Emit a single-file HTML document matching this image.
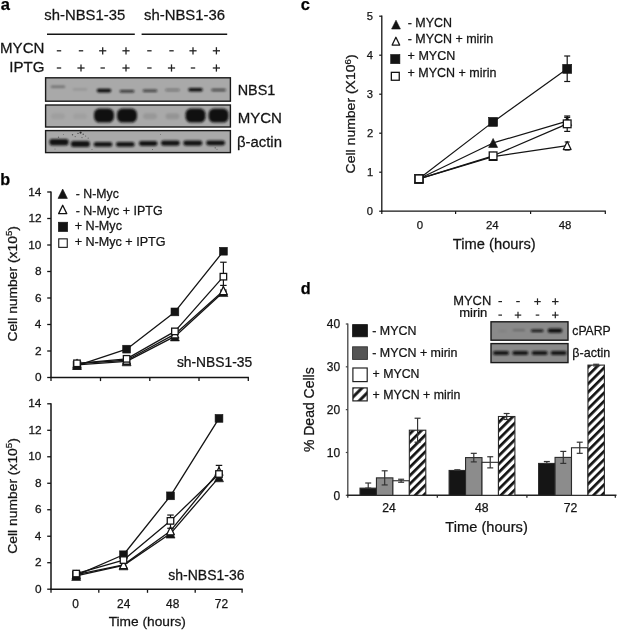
<!DOCTYPE html>
<html><head><meta charset="utf-8"><style>
html,body{margin:0;padding:0;background:#fff;overflow:hidden;width:617px;height:630px;}
svg{display:block;will-change:transform;filter:blur(0.4px);}
text{font-family:"Liberation Sans",sans-serif;stroke:#141414;stroke-width:0.25px;}
</style></head><body>
<svg width="617" height="630" viewBox="0 0 617 630">
<defs>
<filter id="bl" x="-30%" y="-100%" width="160%" height="300%"><feGaussianBlur stdDeviation="0.8"/></filter>
<pattern id="hatch0" patternUnits="userSpaceOnUse" width="5.9" height="5.9" patternTransform="translate(0,-0.95) rotate(45)"><rect width="5.9" height="5.9" fill="#fff"/><rect width="2.7" height="5.9" fill="#111"/></pattern><pattern id="hatch1" patternUnits="userSpaceOnUse" width="5.9" height="5.9" patternTransform="translate(0,1.4) rotate(45)"><rect width="5.9" height="5.9" fill="#fff"/><rect width="2.7" height="5.9" fill="#111"/></pattern><pattern id="hatch2" patternUnits="userSpaceOnUse" width="5.9" height="5.9" patternTransform="translate(0,2.1) rotate(45)"><rect width="5.9" height="5.9" fill="#fff"/><rect width="2.7" height="5.9" fill="#111"/></pattern>
<pattern id="hatchL" patternUnits="userSpaceOnUse" width="7.1" height="7.1" patternTransform="translate(352.9,392.08) rotate(45)"><rect width="7.1" height="7.1" fill="#fff"/><rect x="2.1" width="2.9" height="7.1" fill="#111"/></pattern>
</defs>
<rect width="617" height="630" fill="#fff"/>
<text x="0.82" y="9.60" font-size="16.5" font-weight="bold" fill="#000">a</text>
<text x="0.23" y="185.10" font-size="16.2" font-weight="bold" fill="#000">b</text>
<text x="300.76" y="9.60" font-size="16.5" font-weight="bold" fill="#000">c</text>
<text x="300.84" y="293.80" font-size="16.2" font-weight="bold" fill="#000">d</text>
<text transform="translate(44.29,20.40) scale(1.0363,1)" font-size="14.34" fill="#141414">sh-NBS1-35</text>
<text transform="translate(143.99,20.40) scale(1.0363,1)" font-size="14.38" fill="#141414">sh-NBS1-36</text>
<line x1="47.00" y1="34.20" x2="134.80" y2="34.20" stroke="#141414" stroke-width="1.5"/>
<line x1="141.60" y1="34.20" x2="227.20" y2="34.20" stroke="#141414" stroke-width="1.5"/>
<text transform="translate(0.06,53.30) scale(1.0363,1)" font-size="14.54" fill="#141414">MYCN</text>
<text transform="translate(9.21,71.50) scale(1.0363,1)" font-size="14.57" fill="#141414">IPTG</text>
<line x1="56.80" y1="50.80" x2="61.20" y2="50.80" stroke="#222" stroke-width="1.3"/>
<line x1="56.80" y1="68.00" x2="61.20" y2="68.00" stroke="#222" stroke-width="1.3"/>
<line x1="78.80" y1="50.80" x2="83.20" y2="50.80" stroke="#222" stroke-width="1.3"/>
<line x1="77.40" y1="68.00" x2="84.60" y2="68.00" stroke="#222" stroke-width="1.3"/>
<line x1="81.00" y1="64.40" x2="81.00" y2="71.60" stroke="#222" stroke-width="1.3"/>
<line x1="99.10" y1="50.80" x2="106.30" y2="50.80" stroke="#222" stroke-width="1.3"/>
<line x1="102.70" y1="47.20" x2="102.70" y2="54.40" stroke="#222" stroke-width="1.3"/>
<line x1="100.50" y1="68.00" x2="104.90" y2="68.00" stroke="#222" stroke-width="1.3"/>
<line x1="122.40" y1="50.80" x2="129.60" y2="50.80" stroke="#222" stroke-width="1.3"/>
<line x1="126.00" y1="47.20" x2="126.00" y2="54.40" stroke="#222" stroke-width="1.3"/>
<line x1="122.40" y1="68.00" x2="129.60" y2="68.00" stroke="#222" stroke-width="1.3"/>
<line x1="126.00" y1="64.40" x2="126.00" y2="71.60" stroke="#222" stroke-width="1.3"/>
<line x1="147.20" y1="50.80" x2="151.60" y2="50.80" stroke="#222" stroke-width="1.3"/>
<line x1="147.20" y1="68.00" x2="151.60" y2="68.00" stroke="#222" stroke-width="1.3"/>
<line x1="169.30" y1="50.80" x2="173.70" y2="50.80" stroke="#222" stroke-width="1.3"/>
<line x1="167.90" y1="68.00" x2="175.10" y2="68.00" stroke="#222" stroke-width="1.3"/>
<line x1="171.50" y1="64.40" x2="171.50" y2="71.60" stroke="#222" stroke-width="1.3"/>
<line x1="189.40" y1="50.80" x2="196.60" y2="50.80" stroke="#222" stroke-width="1.3"/>
<line x1="193.00" y1="47.20" x2="193.00" y2="54.40" stroke="#222" stroke-width="1.3"/>
<line x1="190.80" y1="68.00" x2="195.20" y2="68.00" stroke="#222" stroke-width="1.3"/>
<line x1="212.80" y1="50.80" x2="220.00" y2="50.80" stroke="#222" stroke-width="1.3"/>
<line x1="216.40" y1="47.20" x2="216.40" y2="54.40" stroke="#222" stroke-width="1.3"/>
<line x1="212.80" y1="68.00" x2="220.00" y2="68.00" stroke="#222" stroke-width="1.3"/>
<line x1="216.40" y1="64.40" x2="216.40" y2="71.60" stroke="#222" stroke-width="1.3"/>
<rect x="45.6" y="77.80" width="184.8" height="23.40" fill="#a9a9a9" stroke="#1a1a1a" stroke-width="1.4"/>
<rect x="45.6" y="105.00" width="184.8" height="22.00" fill="#a9a9a9" stroke="#1a1a1a" stroke-width="1.4"/>
<rect x="45.6" y="130.60" width="184.8" height="22.00" fill="#a9a9a9" stroke="#1a1a1a" stroke-width="1.4"/>
<rect x="50.75" y="85.50" width="14.50" height="2.60" rx="1.30" fill="#111" fill-opacity="0.32" filter="url(#bl)"/>
<rect x="72.75" y="88.25" width="14.50" height="2.30" rx="1.15" fill="#111" fill-opacity="0.12" filter="url(#bl)"/>
<rect x="96.75" y="88.80" width="14.50" height="3.60" rx="1.80" fill="#111" fill-opacity="1.0" filter="url(#bl)"/>
<rect x="119.75" y="90.00" width="14.50" height="2.40" rx="1.20" fill="#111" fill-opacity="0.8" filter="url(#bl)"/>
<rect x="142.75" y="89.45" width="14.50" height="2.50" rx="1.25" fill="#111" fill-opacity="0.7" filter="url(#bl)"/>
<rect x="165.25" y="88.75" width="14.50" height="2.50" rx="1.25" fill="#111" fill-opacity="0.35" filter="url(#bl)"/>
<rect x="188.25" y="87.90" width="14.50" height="3.60" rx="1.80" fill="#111" fill-opacity="1.0" filter="url(#bl)"/>
<rect x="211.35" y="88.80" width="14.50" height="2.40" rx="1.20" fill="#111" fill-opacity="0.65" filter="url(#bl)"/>
<rect x="51.00" y="113.30" width="14.00" height="6.00" rx="3.00" fill="#111" fill-opacity="0.06" filter="url(#bl)"/>
<rect x="73.00" y="113.30" width="14.00" height="6.00" rx="3.00" fill="#111" fill-opacity="0.05" filter="url(#bl)"/>
<rect x="94.00" y="108.60" width="20.00" height="14.00" rx="5.50" fill="#111" fill-opacity="0.98" filter="url(#bl)"/>
<rect x="117.00" y="108.60" width="20.00" height="14.00" rx="5.50" fill="#111" fill-opacity="0.98" filter="url(#bl)"/>
<rect x="143.00" y="113.30" width="14.00" height="6.00" rx="3.00" fill="#111" fill-opacity="0.1" filter="url(#bl)"/>
<rect x="165.50" y="113.30" width="14.00" height="6.00" rx="3.00" fill="#111" fill-opacity="0.12" filter="url(#bl)"/>
<rect x="185.50" y="108.60" width="20.00" height="14.00" rx="5.50" fill="#111" fill-opacity="0.98" filter="url(#bl)"/>
<rect x="208.60" y="108.60" width="20.00" height="14.00" rx="5.50" fill="#111" fill-opacity="0.98" filter="url(#bl)"/>
<rect x="49.40" y="138.95" width="19.20" height="6.50" rx="2.40" fill="#111" fill-opacity="0.96" filter="url(#bl)"/>
<rect x="70.90" y="140.95" width="19.00" height="6.10" rx="2.40" fill="#111" fill-opacity="0.96" filter="url(#bl)"/>
<rect x="93.65" y="141.95" width="18.70" height="4.90" rx="2.40" fill="#111" fill-opacity="0.96" filter="url(#bl)"/>
<rect x="115.95" y="141.95" width="18.70" height="4.90" rx="2.40" fill="#111" fill-opacity="0.96" filter="url(#bl)"/>
<rect x="138.90" y="141.05" width="18.60" height="4.90" rx="2.40" fill="#111" fill-opacity="0.96" filter="url(#bl)"/>
<rect x="161.00" y="140.45" width="18.80" height="5.30" rx="2.40" fill="#111" fill-opacity="0.96" filter="url(#bl)"/>
<rect x="183.30" y="140.55" width="19.00" height="5.10" rx="2.40" fill="#111" fill-opacity="0.96" filter="url(#bl)"/>
<rect x="206.10" y="140.55" width="19.00" height="4.90" rx="2.40" fill="#111" fill-opacity="0.96" filter="url(#bl)"/>
<circle cx="72.5" cy="134.8" r="0.7" fill="#111" fill-opacity="0.6"/>
<circle cx="75.2" cy="136.6" r="0.6" fill="#111" fill-opacity="0.5"/>
<circle cx="78.0" cy="133.4" r="0.7" fill="#111" fill-opacity="0.6"/>
<circle cx="80.6" cy="132.6" r="1.1" fill="#111" fill-opacity="0.8"/>
<circle cx="83.2" cy="134.2" r="0.7" fill="#111" fill-opacity="0.6"/>
<circle cx="85.6" cy="136.0" r="0.6" fill="#111" fill-opacity="0.5"/>
<circle cx="82.0" cy="137.6" r="0.6" fill="#111" fill-opacity="0.5"/>
<circle cx="88.2" cy="138.2" r="0.6" fill="#111" fill-opacity="0.4"/>
<circle cx="63.5" cy="134.6" r="0.5" fill="#111" fill-opacity="0.4"/>
<circle cx="58.5" cy="137.2" r="0.6" fill="#111" fill-opacity="0.5"/>
<circle cx="55.0" cy="149.0" r="0.5" fill="#111" fill-opacity="0.4"/>
<circle cx="92.0" cy="149.4" r="0.5" fill="#111" fill-opacity="0.4"/>
<circle cx="152.5" cy="149.5" r="0.5" fill="#111" fill-opacity="0.5"/>
<circle cx="215.2" cy="147.8" r="0.6" fill="#111" fill-opacity="0.6"/>
<circle cx="217.0" cy="149.2" r="0.5" fill="#111" fill-opacity="0.5"/>
<circle cx="160.5" cy="134.5" r="0.5" fill="#111" fill-opacity="0.4"/>
<text transform="translate(237.72,94.50) scale(1.0363,1)" font-size="13.88" fill="#141414">NBS1</text>
<text transform="translate(237.66,122.60) scale(1.0363,1)" font-size="14.54" fill="#141414">MYCN</text>
<text transform="translate(236.97,146.80) scale(1.0363,1)" font-size="14.38" fill="#141414">β-actin</text>
<line x1="51.00" y1="191.40" x2="51.00" y2="378.10" stroke="#141414" stroke-width="1.5"/>
<line x1="47.20" y1="377.50" x2="51.00" y2="377.50" stroke="#141414" stroke-width="1.3"/>
<text transform="translate(34.88,381.00) scale(1.0300,1)" font-size="11.50" fill="#141414">0</text>
<line x1="47.20" y1="351.00" x2="51.00" y2="351.00" stroke="#141414" stroke-width="1.3"/>
<text transform="translate(35.01,354.50) scale(1.0300,1)" font-size="11.50" fill="#141414">2</text>
<line x1="47.20" y1="324.50" x2="51.00" y2="324.50" stroke="#141414" stroke-width="1.3"/>
<text transform="translate(34.76,328.00) scale(1.0300,1)" font-size="11.50" fill="#141414">4</text>
<line x1="47.20" y1="298.00" x2="51.00" y2="298.00" stroke="#141414" stroke-width="1.3"/>
<text transform="translate(34.93,301.50) scale(1.0300,1)" font-size="11.50" fill="#141414">6</text>
<line x1="47.20" y1="271.50" x2="51.00" y2="271.50" stroke="#141414" stroke-width="1.3"/>
<text transform="translate(34.93,275.00) scale(1.0300,1)" font-size="11.50" fill="#141414">8</text>
<line x1="47.20" y1="245.00" x2="51.00" y2="245.00" stroke="#141414" stroke-width="1.3"/>
<text transform="translate(28.29,248.50) scale(1.0300,1)" font-size="11.50" fill="#141414">10</text>
<line x1="47.20" y1="218.50" x2="51.00" y2="218.50" stroke="#141414" stroke-width="1.3"/>
<text transform="translate(28.42,222.00) scale(1.0300,1)" font-size="11.50" fill="#141414">12</text>
<line x1="47.20" y1="192.00" x2="51.00" y2="192.00" stroke="#141414" stroke-width="1.3"/>
<text transform="translate(28.17,195.50) scale(1.0300,1)" font-size="11.50" fill="#141414">14</text>
<line x1="50.30" y1="377.50" x2="248.90" y2="377.50" stroke="#141414" stroke-width="1.5"/>
<line x1="51.00" y1="377.50" x2="51.00" y2="381.10" stroke="#141414" stroke-width="1.3"/>
<line x1="100.50" y1="377.50" x2="100.50" y2="381.10" stroke="#141414" stroke-width="1.3"/>
<line x1="149.80" y1="377.50" x2="149.80" y2="381.10" stroke="#141414" stroke-width="1.3"/>
<line x1="199.00" y1="377.50" x2="199.00" y2="381.10" stroke="#141414" stroke-width="1.3"/>
<line x1="248.30" y1="377.50" x2="248.30" y2="381.10" stroke="#141414" stroke-width="1.3"/>
<text transform="translate(176.91,367.20) scale(0.9955,1)" font-size="13.90" fill="#141414">sh-NBS1-35</text>
<text transform="translate(16.90,341.60) rotate(-90) scale(1.0358,1)" font-size="13.40" fill="#141414">Cell number (x10<tspan font-size="9.30" dy="-4.70">5</tspan><tspan dy="4.70">)</tspan></text>
<polygon points="62.70,189.00 67.40,198.40 58.00,198.40" fill="#141414" stroke="#141414" stroke-width="0.6" stroke-linejoin="round"/>
<polygon points="62.70,205.25 66.75,213.65 58.65,213.65" fill="#fff" stroke="#141414" stroke-width="1.3" stroke-linejoin="round"/>
<rect x="58.30" y="222.20" width="9.40" height="9.40" fill="#141414" stroke="#141414" stroke-width="0.6"/>
<rect x="58.75" y="238.85" width="8.50" height="8.50" fill="#fff" stroke="#141414" stroke-width="1.1"/>
<text transform="translate(75.75,197.90) scale(0.9927,1)" font-size="12.40" fill="#141414">- N-Myc</text>
<text transform="translate(75.75,214.60) scale(1.0061,1)" font-size="12.40" fill="#141414">- N-Myc + IPTG</text>
<text transform="translate(74.68,230.20) scale(1.0161,1)" font-size="12.40" fill="#141414">+ N-Myc</text>
<text transform="translate(74.69,246.10) scale(1.0155,1)" font-size="12.40" fill="#141414">+ N-Myc + IPTG</text>
<polyline points="77.00,364.91 126.60,361.33 174.90,336.43 223.40,292.04" fill="none" stroke="#141414" stroke-width="1.3" stroke-linejoin="round"/>
<polyline points="77.00,363.59 126.60,360.27 174.90,334.17 223.40,290.71" fill="none" stroke="#141414" stroke-width="1.3" stroke-linejoin="round"/>
<polyline points="77.00,363.32 126.60,358.82 174.90,331.39 223.40,276.67" fill="none" stroke="#141414" stroke-width="1.3" stroke-linejoin="round"/>
<polyline points="77.00,365.57 126.60,349.14 174.90,311.91 223.40,251.23" fill="none" stroke="#141414" stroke-width="1.3" stroke-linejoin="round"/>
<line x1="223.40" y1="262.23" x2="223.40" y2="290.05" stroke="#141414" stroke-width="1.2"/>
<line x1="220.15" y1="262.23" x2="226.65" y2="262.23" stroke="#141414" stroke-width="1.2"/>
<line x1="220.15" y1="290.05" x2="226.65" y2="290.05" stroke="#141414" stroke-width="1.2"/>
<line x1="223.40" y1="285.41" x2="223.40" y2="291.38" stroke="#141414" stroke-width="1.2"/>
<line x1="220.15" y1="285.41" x2="226.65" y2="285.41" stroke="#141414" stroke-width="1.2"/>
<line x1="220.15" y1="291.38" x2="226.65" y2="291.38" stroke="#141414" stroke-width="1.2"/>
<polygon points="77.00,360.41 81.50,369.41 72.50,369.41" fill="#141414" stroke="#141414" stroke-width="0.6" stroke-linejoin="round"/>
<polygon points="126.60,356.83 131.10,365.83 122.10,365.83" fill="#141414" stroke="#141414" stroke-width="0.6" stroke-linejoin="round"/>
<polygon points="174.90,331.93 179.40,340.93 170.40,340.93" fill="#141414" stroke="#141414" stroke-width="0.6" stroke-linejoin="round"/>
<polygon points="223.40,287.54 227.90,296.54 218.90,296.54" fill="#141414" stroke="#141414" stroke-width="0.6" stroke-linejoin="round"/>
<polygon points="77.00,359.44 80.85,367.44 73.15,367.44" fill="#fff" stroke="#141414" stroke-width="1.3" stroke-linejoin="round"/>
<polygon points="126.60,356.12 130.45,364.12 122.75,364.12" fill="#fff" stroke="#141414" stroke-width="1.3" stroke-linejoin="round"/>
<polygon points="174.90,330.02 178.75,338.02 171.05,338.02" fill="#fff" stroke="#141414" stroke-width="1.3" stroke-linejoin="round"/>
<polygon points="223.40,286.56 227.25,294.56 219.55,294.56" fill="#fff" stroke="#141414" stroke-width="1.3" stroke-linejoin="round"/>
<rect x="73.10" y="361.68" width="7.80" height="7.80" fill="#141414" stroke="#141414" stroke-width="0.6"/>
<rect x="122.70" y="345.25" width="7.80" height="7.80" fill="#141414" stroke="#141414" stroke-width="0.6"/>
<rect x="171.00" y="308.01" width="7.80" height="7.80" fill="#141414" stroke="#141414" stroke-width="0.6"/>
<rect x="219.50" y="247.33" width="7.80" height="7.80" fill="#141414" stroke="#141414" stroke-width="0.6"/>
<rect x="73.75" y="360.07" width="6.50" height="6.50" fill="#fff" stroke="#141414" stroke-width="1.3"/>
<rect x="123.35" y="355.57" width="6.50" height="6.50" fill="#fff" stroke="#141414" stroke-width="1.3"/>
<rect x="171.65" y="328.14" width="6.50" height="6.50" fill="#fff" stroke="#141414" stroke-width="1.3"/>
<rect x="220.15" y="273.42" width="6.50" height="6.50" fill="#fff" stroke="#141414" stroke-width="1.3"/>
<line x1="51.00" y1="403.20" x2="51.00" y2="589.80" stroke="#141414" stroke-width="1.5"/>
<line x1="47.20" y1="589.20" x2="51.00" y2="589.20" stroke="#141414" stroke-width="1.3"/>
<text transform="translate(34.88,592.70) scale(1.0300,1)" font-size="11.50" fill="#141414">0</text>
<line x1="47.20" y1="562.71" x2="51.00" y2="562.71" stroke="#141414" stroke-width="1.3"/>
<text transform="translate(35.01,566.21) scale(1.0300,1)" font-size="11.50" fill="#141414">2</text>
<line x1="47.20" y1="536.23" x2="51.00" y2="536.23" stroke="#141414" stroke-width="1.3"/>
<text transform="translate(34.76,539.73) scale(1.0300,1)" font-size="11.50" fill="#141414">4</text>
<line x1="47.20" y1="509.74" x2="51.00" y2="509.74" stroke="#141414" stroke-width="1.3"/>
<text transform="translate(34.93,513.24) scale(1.0300,1)" font-size="11.50" fill="#141414">6</text>
<line x1="47.20" y1="483.26" x2="51.00" y2="483.26" stroke="#141414" stroke-width="1.3"/>
<text transform="translate(34.93,486.76) scale(1.0300,1)" font-size="11.50" fill="#141414">8</text>
<line x1="47.20" y1="456.77" x2="51.00" y2="456.77" stroke="#141414" stroke-width="1.3"/>
<text transform="translate(28.29,460.27) scale(1.0300,1)" font-size="11.50" fill="#141414">10</text>
<line x1="47.20" y1="430.29" x2="51.00" y2="430.29" stroke="#141414" stroke-width="1.3"/>
<text transform="translate(28.42,433.79) scale(1.0300,1)" font-size="11.50" fill="#141414">12</text>
<line x1="47.20" y1="403.80" x2="51.00" y2="403.80" stroke="#141414" stroke-width="1.3"/>
<text transform="translate(28.17,407.30) scale(1.0300,1)" font-size="11.50" fill="#141414">14</text>
<line x1="50.30" y1="589.20" x2="242.70" y2="589.20" stroke="#141414" stroke-width="1.5"/>
<line x1="51.00" y1="589.20" x2="51.00" y2="592.80" stroke="#141414" stroke-width="1.3"/>
<line x1="98.80" y1="589.20" x2="98.80" y2="592.80" stroke="#141414" stroke-width="1.3"/>
<line x1="147.50" y1="589.20" x2="147.50" y2="592.80" stroke="#141414" stroke-width="1.3"/>
<line x1="195.20" y1="589.20" x2="195.20" y2="592.80" stroke="#141414" stroke-width="1.3"/>
<line x1="242.10" y1="589.20" x2="242.10" y2="592.80" stroke="#141414" stroke-width="1.3"/>
<text transform="translate(168.31,579.80) scale(1.0079,1)" font-size="13.90" fill="#141414">sh-NBS1-36</text>
<text transform="translate(16.90,553.70) rotate(-90) scale(1.0349,1)" font-size="13.40" fill="#141414">Cell number (x10<tspan font-size="9.30" dy="-4.70">5</tspan><tspan dy="4.70">)</tspan></text>
<polyline points="76.20,575.96 123.50,565.36 170.50,533.58 219.00,477.30" fill="none" stroke="#141414" stroke-width="1.3" stroke-linejoin="round"/>
<polyline points="76.20,574.63 123.50,564.83 170.50,530.93 219.00,471.34" fill="none" stroke="#141414" stroke-width="1.3" stroke-linejoin="round"/>
<polyline points="76.20,573.57 123.50,560.07 170.50,520.87 219.00,473.99" fill="none" stroke="#141414" stroke-width="1.3" stroke-linejoin="round"/>
<polyline points="76.20,575.30 123.50,554.77 170.50,495.84 219.00,418.37" fill="none" stroke="#141414" stroke-width="1.3" stroke-linejoin="round"/>
<line x1="170.50" y1="515.04" x2="170.50" y2="528.28" stroke="#141414" stroke-width="1.2"/>
<line x1="167.25" y1="515.04" x2="173.75" y2="515.04" stroke="#141414" stroke-width="1.2"/>
<line x1="167.25" y1="528.28" x2="173.75" y2="528.28" stroke="#141414" stroke-width="1.2"/>
<line x1="219.00" y1="465.38" x2="219.00" y2="479.28" stroke="#141414" stroke-width="1.2"/>
<line x1="215.75" y1="465.38" x2="222.25" y2="465.38" stroke="#141414" stroke-width="1.2"/>
<line x1="215.75" y1="479.28" x2="222.25" y2="479.28" stroke="#141414" stroke-width="1.2"/>
<polygon points="76.20,571.46 80.70,580.46 71.70,580.46" fill="#141414" stroke="#141414" stroke-width="0.6" stroke-linejoin="round"/>
<polygon points="123.50,560.86 128.00,569.86 119.00,569.86" fill="#141414" stroke="#141414" stroke-width="0.6" stroke-linejoin="round"/>
<polygon points="170.50,529.08 175.00,538.08 166.00,538.08" fill="#141414" stroke="#141414" stroke-width="0.6" stroke-linejoin="round"/>
<polygon points="219.00,472.80 223.50,481.80 214.50,481.80" fill="#141414" stroke="#141414" stroke-width="0.6" stroke-linejoin="round"/>
<polygon points="76.20,570.48 80.05,578.48 72.35,578.48" fill="#fff" stroke="#141414" stroke-width="1.3" stroke-linejoin="round"/>
<polygon points="123.50,560.68 127.35,568.68 119.65,568.68" fill="#fff" stroke="#141414" stroke-width="1.3" stroke-linejoin="round"/>
<polygon points="170.50,526.78 174.35,534.78 166.65,534.78" fill="#fff" stroke="#141414" stroke-width="1.3" stroke-linejoin="round"/>
<polygon points="219.00,467.19 222.85,475.19 215.15,475.19" fill="#fff" stroke="#141414" stroke-width="1.3" stroke-linejoin="round"/>
<rect x="72.30" y="571.40" width="7.80" height="7.80" fill="#141414" stroke="#141414" stroke-width="0.6"/>
<rect x="119.60" y="550.87" width="7.80" height="7.80" fill="#141414" stroke="#141414" stroke-width="0.6"/>
<rect x="166.60" y="491.94" width="7.80" height="7.80" fill="#141414" stroke="#141414" stroke-width="0.6"/>
<rect x="215.10" y="414.47" width="7.80" height="7.80" fill="#141414" stroke="#141414" stroke-width="0.6"/>
<rect x="72.95" y="570.32" width="6.50" height="6.50" fill="#fff" stroke="#141414" stroke-width="1.3"/>
<rect x="120.25" y="556.82" width="6.50" height="6.50" fill="#fff" stroke="#141414" stroke-width="1.3"/>
<rect x="167.25" y="517.62" width="6.50" height="6.50" fill="#fff" stroke="#141414" stroke-width="1.3"/>
<rect x="215.75" y="470.74" width="6.50" height="6.50" fill="#fff" stroke="#141414" stroke-width="1.3"/>
<text transform="translate(72.29,607.80) scale(1.0000,1)" font-size="11.90" fill="#141414">0</text>
<text transform="translate(117.06,607.80) scale(1.0000,1)" font-size="11.90" fill="#141414">24</text>
<text transform="translate(166.10,607.80) scale(1.0000,1)" font-size="11.90" fill="#141414">48</text>
<text transform="translate(214.78,607.80) scale(1.0000,1)" font-size="11.90" fill="#141414">72</text>
<text transform="translate(108.69,626.00) scale(1.0163,1)" font-size="13.50" fill="#141414">Time (hours)</text>
<line x1="381.80" y1="15.60" x2="381.80" y2="211.80" stroke="#141414" stroke-width="1.3"/>
<line x1="379.20" y1="211.20" x2="381.80" y2="211.20" stroke="#141414" stroke-width="1.2"/>
<text transform="translate(366.81,215.10) scale(1.0000,1)" font-size="11.20" fill="#141414">0</text>
<line x1="379.20" y1="172.20" x2="381.80" y2="172.20" stroke="#141414" stroke-width="1.2"/>
<text transform="translate(366.92,176.10) scale(1.0000,1)" font-size="11.20" fill="#141414">1</text>
<line x1="379.20" y1="133.20" x2="381.80" y2="133.20" stroke="#141414" stroke-width="1.2"/>
<text transform="translate(366.93,137.10) scale(1.0000,1)" font-size="11.20" fill="#141414">2</text>
<line x1="379.20" y1="94.20" x2="381.80" y2="94.20" stroke="#141414" stroke-width="1.2"/>
<text transform="translate(366.86,98.10) scale(1.0000,1)" font-size="11.20" fill="#141414">3</text>
<line x1="379.20" y1="55.20" x2="381.80" y2="55.20" stroke="#141414" stroke-width="1.2"/>
<text transform="translate(366.70,59.10) scale(1.0000,1)" font-size="11.20" fill="#141414">4</text>
<line x1="379.20" y1="16.20" x2="381.80" y2="16.20" stroke="#141414" stroke-width="1.2"/>
<text transform="translate(366.84,20.10) scale(1.0000,1)" font-size="11.20" fill="#141414">5</text>
<line x1="381.20" y1="211.20" x2="605.90" y2="211.20" stroke="#141414" stroke-width="1.3"/>
<line x1="381.80" y1="211.20" x2="381.80" y2="214.00" stroke="#141414" stroke-width="1.2"/>
<line x1="455.60" y1="211.20" x2="455.60" y2="214.00" stroke="#141414" stroke-width="1.2"/>
<line x1="530.60" y1="211.20" x2="530.60" y2="214.00" stroke="#141414" stroke-width="1.2"/>
<line x1="605.30" y1="211.20" x2="605.30" y2="214.00" stroke="#141414" stroke-width="1.2"/>
<text transform="translate(416.63,229.00) scale(1.0000,1)" font-size="11.40" fill="#141414">0</text>
<text transform="translate(485.94,229.00) scale(1.0000,1)" font-size="11.40" fill="#141414">24</text>
<text transform="translate(558.68,229.00) scale(1.0000,1)" font-size="11.40" fill="#141414">48</text>
<text transform="translate(452.87,248.50) scale(1.0283,1)" font-size="14.30" fill="#141414">Time (hours)</text>
<text transform="translate(355.40,173.41) rotate(-90) scale(1.0231,1)" font-size="13.70" fill="#141414">Cell number (X10<tspan font-size="9.40" dy="-4.80">6</tspan><tspan dy="4.80">)</tspan></text>
<polygon points="396.00,20.20 400.40,29.00 391.60,29.00" fill="#141414" stroke="#141414" stroke-width="0.6" stroke-linejoin="round"/>
<polygon points="395.90,37.25 399.65,45.05 392.15,45.05" fill="#fff" stroke="#141414" stroke-width="1.3" stroke-linejoin="round"/>
<rect x="390.70" y="54.50" width="9.20" height="9.20" fill="#141414" stroke="#141414" stroke-width="0.6"/>
<rect x="391.35" y="72.35" width="7.90" height="7.90" fill="#fff" stroke="#141414" stroke-width="1.3"/>
<text transform="translate(407.65,26.50) scale(1.0147,1)" font-size="12.30" fill="#141414">- MYCN</text>
<text transform="translate(407.65,42.70) scale(1.0139,1)" font-size="12.30" fill="#141414">- MYCN + mirin</text>
<text transform="translate(407.59,59.60) scale(1.0196,1)" font-size="12.30" fill="#141414">+ MYCN</text>
<text transform="translate(407.59,76.50) scale(1.0165,1)" font-size="12.30" fill="#141414">+ MYCN + mirin</text>
<polyline points="419.00,178.83 493.10,121.89 567.20,68.85" fill="none" stroke="#141414" stroke-width="1.2" stroke-linejoin="round"/>
<polyline points="419.00,178.83 493.10,142.95 567.20,121.11" fill="none" stroke="#141414" stroke-width="1.2" stroke-linejoin="round"/>
<polyline points="419.00,178.83 493.10,155.82 567.20,123.84" fill="none" stroke="#141414" stroke-width="1.2" stroke-linejoin="round"/>
<polyline points="419.00,178.83 493.10,156.60 567.20,145.68" fill="none" stroke="#141414" stroke-width="1.2" stroke-linejoin="round"/>
<line x1="567.20" y1="56.00" x2="567.20" y2="81.50" stroke="#141414" stroke-width="1.2"/>
<line x1="564.20" y1="56.00" x2="570.20" y2="56.00" stroke="#141414" stroke-width="1.2"/>
<line x1="564.20" y1="81.50" x2="570.20" y2="81.50" stroke="#141414" stroke-width="1.2"/>
<line x1="567.20" y1="116.00" x2="567.20" y2="131.40" stroke="#141414" stroke-width="1.2"/>
<line x1="564.20" y1="116.00" x2="570.20" y2="116.00" stroke="#141414" stroke-width="1.2"/>
<line x1="564.20" y1="131.40" x2="570.20" y2="131.40" stroke="#141414" stroke-width="1.2"/>
<line x1="567.20" y1="117.40" x2="567.20" y2="124.00" stroke="#141414" stroke-width="1.2"/>
<line x1="564.20" y1="117.40" x2="570.20" y2="117.40" stroke="#141414" stroke-width="1.2"/>
<line x1="564.20" y1="124.00" x2="570.20" y2="124.00" stroke="#141414" stroke-width="1.2"/>
<line x1="567.20" y1="142.00" x2="567.20" y2="150.00" stroke="#141414" stroke-width="1.2"/>
<line x1="564.70" y1="142.00" x2="569.70" y2="142.00" stroke="#141414" stroke-width="1.2"/>
<line x1="564.70" y1="150.00" x2="569.70" y2="150.00" stroke="#141414" stroke-width="1.2"/>
<rect x="414.50" y="174.33" width="9.00" height="9.00" fill="#141414" stroke="#141414" stroke-width="0.6"/>
<rect x="488.60" y="117.39" width="9.00" height="9.00" fill="#141414" stroke="#141414" stroke-width="0.6"/>
<rect x="562.70" y="64.35" width="9.00" height="9.00" fill="#141414" stroke="#141414" stroke-width="0.6"/>
<polygon points="419.00,174.33 423.50,183.33 414.50,183.33" fill="#141414" stroke="#141414" stroke-width="0.6" stroke-linejoin="round"/>
<polygon points="493.10,138.45 497.60,147.45 488.60,147.45" fill="#141414" stroke="#141414" stroke-width="0.6" stroke-linejoin="round"/>
<polygon points="567.20,116.61 571.70,125.61 562.70,125.61" fill="#141414" stroke="#141414" stroke-width="0.6" stroke-linejoin="round"/>
<polygon points="419.00,174.68 422.85,182.68 415.15,182.68" fill="#fff" stroke="#141414" stroke-width="1.3" stroke-linejoin="round"/>
<polygon points="493.10,152.45 496.95,160.45 489.25,160.45" fill="#fff" stroke="#141414" stroke-width="1.3" stroke-linejoin="round"/>
<polygon points="567.20,141.53 571.05,149.53 563.35,149.53" fill="#fff" stroke="#141414" stroke-width="1.3" stroke-linejoin="round"/>
<rect x="415.15" y="174.98" width="7.70" height="7.70" fill="#fff" stroke="#141414" stroke-width="1.3"/>
<rect x="489.25" y="151.97" width="7.70" height="7.70" fill="#fff" stroke="#141414" stroke-width="1.3"/>
<rect x="563.35" y="119.99" width="7.70" height="7.70" fill="#fff" stroke="#141414" stroke-width="1.3"/>
<line x1="347.80" y1="323.50" x2="347.80" y2="495.80" stroke="#444" stroke-width="1.3"/>
<line x1="345.80" y1="495.30" x2="347.80" y2="495.30" stroke="#444" stroke-width="1.2"/>
<text transform="translate(333.49,499.60) scale(1.0000,1)" font-size="12.00" fill="#141414">0</text>
<line x1="345.80" y1="452.48" x2="347.80" y2="452.48" stroke="#444" stroke-width="1.2"/>
<text transform="translate(326.82,456.78) scale(1.0000,1)" font-size="12.00" fill="#141414">10</text>
<line x1="345.80" y1="409.65" x2="347.80" y2="409.65" stroke="#444" stroke-width="1.2"/>
<text transform="translate(326.82,413.95) scale(1.0000,1)" font-size="12.00" fill="#141414">20</text>
<line x1="345.80" y1="366.82" x2="347.80" y2="366.82" stroke="#444" stroke-width="1.2"/>
<text transform="translate(326.82,371.12) scale(1.0000,1)" font-size="12.00" fill="#141414">30</text>
<line x1="345.80" y1="324.00" x2="347.80" y2="324.00" stroke="#444" stroke-width="1.2"/>
<text transform="translate(326.82,328.30) scale(1.0000,1)" font-size="12.00" fill="#141414">40</text>
<line x1="347.30" y1="495.30" x2="616.50" y2="495.30" stroke="#222" stroke-width="1.4"/>
<line x1="347.80" y1="495.30" x2="347.80" y2="497.70" stroke="#222" stroke-width="1.2"/>
<line x1="437.30" y1="495.30" x2="437.30" y2="497.70" stroke="#222" stroke-width="1.2"/>
<line x1="526.90" y1="495.30" x2="526.90" y2="497.70" stroke="#222" stroke-width="1.2"/>
<line x1="615.30" y1="495.30" x2="615.30" y2="497.70" stroke="#222" stroke-width="1.2"/>
<text transform="translate(382.19,512.00) scale(1.0000,1)" font-size="12.20" fill="#141414">24</text>
<text transform="translate(474.94,512.00) scale(1.0000,1)" font-size="12.20" fill="#141414">48</text>
<text transform="translate(563.71,512.00) scale(1.0000,1)" font-size="12.20" fill="#141414">72</text>
<text transform="translate(445.37,531.60) scale(1.0246,1)" font-size="14.30" fill="#141414">Time (hours)</text>
<text transform="translate(314.3,452.1) rotate(-90)" font-size="14" fill="#141414">% Dead Cells</text>
<rect x="360.00" y="488.15" width="16.45" height="7.15" fill="#151515" stroke="#2a2a2a" stroke-width="1.1"/>
<rect x="376.45" y="477.87" width="16.45" height="17.43" fill="#8c8c8c" stroke="#2a2a2a" stroke-width="1.1"/>
<rect x="392.90" y="480.74" width="16.45" height="14.56" fill="#ffffff" stroke="#2a2a2a" stroke-width="1.1"/>
<rect x="409.35" y="430.21" width="16.45" height="65.09" fill="url(#hatch0)" stroke="#2a2a2a" stroke-width="1.1"/>
<rect x="449.10" y="470.46" width="16.45" height="24.84" fill="#151515" stroke="#2a2a2a" stroke-width="1.1"/>
<rect x="465.55" y="457.61" width="16.45" height="37.69" fill="#8c8c8c" stroke="#2a2a2a" stroke-width="1.1"/>
<rect x="482.00" y="462.32" width="16.45" height="32.98" fill="#ffffff" stroke="#2a2a2a" stroke-width="1.1"/>
<rect x="498.45" y="416.50" width="16.45" height="78.80" fill="url(#hatch1)" stroke="#2a2a2a" stroke-width="1.1"/>
<rect x="538.60" y="463.44" width="16.45" height="31.86" fill="#151515" stroke="#2a2a2a" stroke-width="1.1"/>
<rect x="555.05" y="457.40" width="16.45" height="37.90" fill="#8c8c8c" stroke="#2a2a2a" stroke-width="1.1"/>
<rect x="571.50" y="447.76" width="16.45" height="47.54" fill="#ffffff" stroke="#2a2a2a" stroke-width="1.1"/>
<rect x="587.95" y="365.11" width="16.45" height="130.19" fill="url(#hatch2)" stroke="#2a2a2a" stroke-width="1.1"/>
<line x1="368.23" y1="483.01" x2="368.23" y2="488.15" stroke="#333" stroke-width="1.2"/>
<line x1="365.23" y1="483.01" x2="371.23" y2="483.01" stroke="#333" stroke-width="1.2"/>
<line x1="365.23" y1="488.15" x2="371.23" y2="488.15" stroke="#333" stroke-width="1.2"/>
<line x1="384.68" y1="470.80" x2="384.68" y2="484.94" stroke="#333" stroke-width="1.2"/>
<line x1="381.68" y1="470.80" x2="387.68" y2="470.80" stroke="#333" stroke-width="1.2"/>
<line x1="381.68" y1="484.94" x2="387.68" y2="484.94" stroke="#333" stroke-width="1.2"/>
<line x1="401.12" y1="479.24" x2="401.12" y2="482.24" stroke="#333" stroke-width="1.2"/>
<line x1="398.12" y1="479.24" x2="404.12" y2="479.24" stroke="#333" stroke-width="1.2"/>
<line x1="398.12" y1="482.24" x2="404.12" y2="482.24" stroke="#333" stroke-width="1.2"/>
<line x1="417.58" y1="418.22" x2="417.58" y2="442.20" stroke="#333" stroke-width="1.2"/>
<line x1="414.58" y1="418.22" x2="420.58" y2="418.22" stroke="#333" stroke-width="1.2"/>
<line x1="414.58" y1="442.20" x2="420.58" y2="442.20" stroke="#333" stroke-width="1.2"/>
<line x1="457.33" y1="469.82" x2="457.33" y2="470.46" stroke="#333" stroke-width="1.2"/>
<line x1="454.33" y1="469.82" x2="460.33" y2="469.82" stroke="#333" stroke-width="1.2"/>
<line x1="454.33" y1="470.46" x2="460.33" y2="470.46" stroke="#333" stroke-width="1.2"/>
<line x1="473.78" y1="453.33" x2="473.78" y2="461.90" stroke="#333" stroke-width="1.2"/>
<line x1="470.78" y1="453.33" x2="476.78" y2="453.33" stroke="#333" stroke-width="1.2"/>
<line x1="470.78" y1="461.90" x2="476.78" y2="461.90" stroke="#333" stroke-width="1.2"/>
<line x1="490.23" y1="456.76" x2="490.23" y2="467.89" stroke="#333" stroke-width="1.2"/>
<line x1="487.23" y1="456.76" x2="493.23" y2="456.76" stroke="#333" stroke-width="1.2"/>
<line x1="487.23" y1="467.89" x2="493.23" y2="467.89" stroke="#333" stroke-width="1.2"/>
<line x1="506.68" y1="413.50" x2="506.68" y2="419.50" stroke="#333" stroke-width="1.2"/>
<line x1="503.68" y1="413.50" x2="509.68" y2="413.50" stroke="#333" stroke-width="1.2"/>
<line x1="503.68" y1="419.50" x2="509.68" y2="419.50" stroke="#333" stroke-width="1.2"/>
<line x1="546.83" y1="461.51" x2="546.83" y2="463.44" stroke="#333" stroke-width="1.2"/>
<line x1="543.83" y1="461.51" x2="549.83" y2="461.51" stroke="#333" stroke-width="1.2"/>
<line x1="543.83" y1="463.44" x2="549.83" y2="463.44" stroke="#333" stroke-width="1.2"/>
<line x1="563.28" y1="451.40" x2="563.28" y2="463.40" stroke="#333" stroke-width="1.2"/>
<line x1="560.28" y1="451.40" x2="566.28" y2="451.40" stroke="#333" stroke-width="1.2"/>
<line x1="560.28" y1="463.40" x2="566.28" y2="463.40" stroke="#333" stroke-width="1.2"/>
<line x1="579.73" y1="442.20" x2="579.73" y2="453.33" stroke="#333" stroke-width="1.2"/>
<line x1="576.73" y1="442.20" x2="582.73" y2="442.20" stroke="#333" stroke-width="1.2"/>
<line x1="576.73" y1="453.33" x2="582.73" y2="453.33" stroke="#333" stroke-width="1.2"/>
<line x1="596.18" y1="364.26" x2="596.18" y2="365.97" stroke="#333" stroke-width="1.2"/>
<line x1="593.18" y1="364.26" x2="599.18" y2="364.26" stroke="#333" stroke-width="1.2"/>
<line x1="593.18" y1="365.97" x2="599.18" y2="365.97" stroke="#333" stroke-width="1.2"/>
<rect x="352.6" y="324.6" width="14.8" height="12.2" fill="#151515" stroke="#151515" stroke-width="0.8"/>
<rect x="352.6" y="346.8" width="14.8" height="12.6" fill="#555" stroke="#333" stroke-width="0.9"/>
<rect x="352.9" y="368.0" width="14.3" height="13.6" fill="#fff" stroke="#222" stroke-width="1.2"/>
<rect x="352.9" y="387.9" width="14.3" height="13.0" fill="url(#hatchL)" stroke="#222" stroke-width="1.2"/>
<text transform="translate(372.25,335.40) scale(1.0018,1)" font-size="12.40" fill="#141414">- MYCN</text>
<text transform="translate(372.25,357.40) scale(1.0033,1)" font-size="12.40" fill="#141414">- MYCN + mirin</text>
<text transform="translate(372.60,378.20) scale(0.9939,1)" font-size="12.40" fill="#141414">+ MYCN</text>
<text transform="translate(372.60,398.80) scale(0.9968,1)" font-size="12.40" fill="#141414">+ MYCN + mirin</text>
<text transform="translate(453.24,305.10) scale(1.0165,1)" font-size="12.70" fill="#141414">MYCN</text>
<text transform="translate(459.14,317.10) scale(1.0253,1)" font-size="12.70" fill="#141414">mirin</text>
<line x1="498.40" y1="301.60" x2="502.00" y2="301.60" stroke="#222" stroke-width="1.2"/>
<line x1="498.40" y1="315.10" x2="502.00" y2="315.10" stroke="#222" stroke-width="1.2"/>
<line x1="516.20" y1="301.60" x2="519.80" y2="301.60" stroke="#222" stroke-width="1.2"/>
<line x1="514.75" y1="315.10" x2="521.25" y2="315.10" stroke="#222" stroke-width="1.2"/>
<line x1="518.00" y1="311.85" x2="518.00" y2="318.35" stroke="#222" stroke-width="1.2"/>
<line x1="534.25" y1="301.60" x2="540.75" y2="301.60" stroke="#222" stroke-width="1.2"/>
<line x1="537.50" y1="298.35" x2="537.50" y2="304.85" stroke="#222" stroke-width="1.2"/>
<line x1="535.70" y1="315.10" x2="539.30" y2="315.10" stroke="#222" stroke-width="1.2"/>
<line x1="552.05" y1="301.60" x2="558.55" y2="301.60" stroke="#222" stroke-width="1.2"/>
<line x1="555.30" y1="298.35" x2="555.30" y2="304.85" stroke="#222" stroke-width="1.2"/>
<line x1="552.05" y1="315.10" x2="558.55" y2="315.10" stroke="#222" stroke-width="1.2"/>
<line x1="555.30" y1="311.85" x2="555.30" y2="318.35" stroke="#222" stroke-width="1.2"/>
<rect x="491.0" y="321.8" width="77.0" height="18.4" fill="#8a8a8a" stroke="#1a1a1a" stroke-width="1.4"/>
<rect x="491.0" y="343.6" width="77.0" height="19.0" fill="#8a8a8a" stroke="#1a1a1a" stroke-width="1.4"/>
<rect x="498.50" y="330.00" width="8.00" height="2.00" rx="1.00" fill="#111" fill-opacity="0.08" filter="url(#bl)"/>
<rect x="512.70" y="329.50" width="12.40" height="1.60" rx="0.80" fill="#111" fill-opacity="0.3" filter="url(#bl)"/>
<rect x="530.95" y="329.50" width="12.50" height="2.60" rx="1.30" fill="#111" fill-opacity="1.0" filter="url(#bl)"/>
<rect x="547.70" y="328.40" width="14.60" height="4.40" rx="2.20" fill="#111" fill-opacity="1.0" filter="url(#bl)"/>
<rect x="493.10" y="350.90" width="15.80" height="4.00" rx="1.60" fill="#111" fill-opacity="0.95" filter="url(#bl)"/>
<rect x="512.40" y="350.90" width="15.80" height="4.00" rx="1.60" fill="#111" fill-opacity="0.95" filter="url(#bl)"/>
<rect x="531.80" y="350.90" width="15.80" height="4.00" rx="1.60" fill="#111" fill-opacity="0.95" filter="url(#bl)"/>
<rect x="550.80" y="350.90" width="15.80" height="4.00" rx="1.60" fill="#111" fill-opacity="0.95" filter="url(#bl)"/>
<text transform="translate(572.28,334.60) scale(0.9693,1)" font-size="12.60" fill="#141414">cPARP</text>
<text transform="translate(572.23,356.90) scale(0.9982,1)" font-size="12.60" fill="#141414">β-actin</text>
</svg>
</body></html>
